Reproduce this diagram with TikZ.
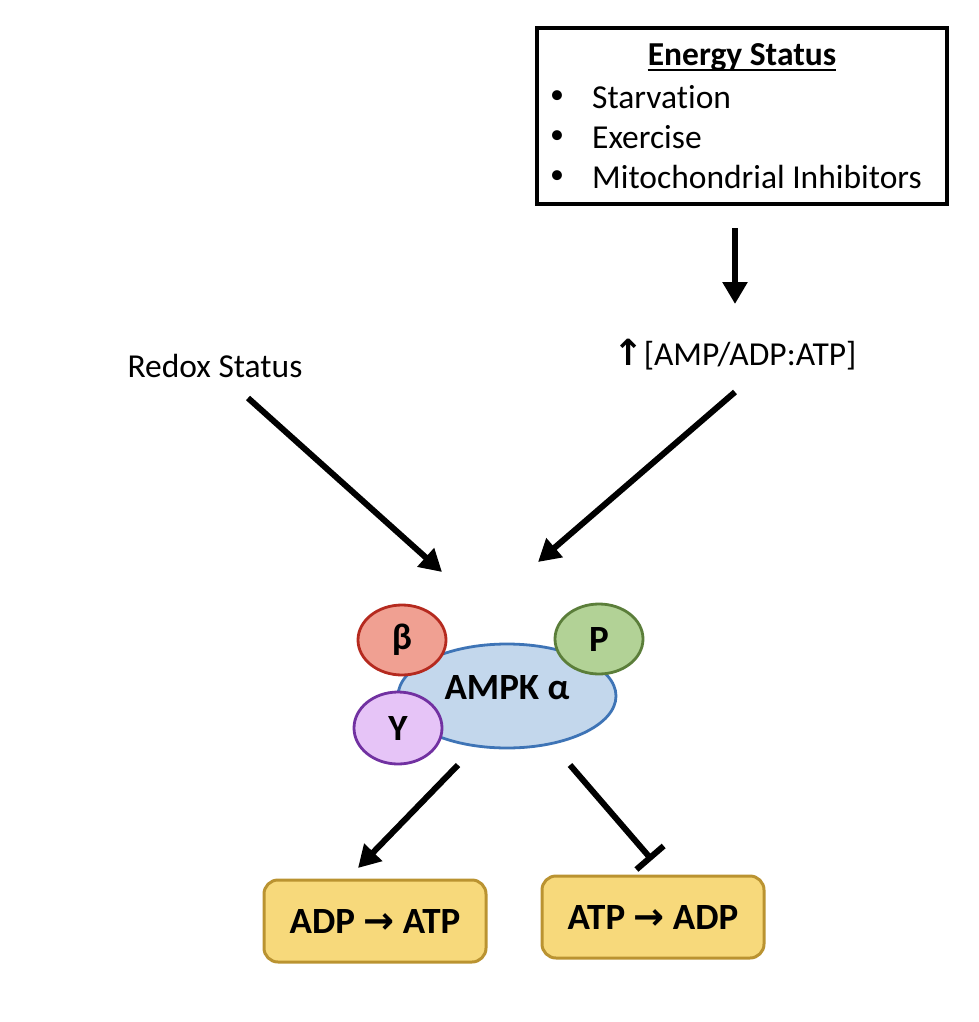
\documentclass[tikz,border=0pt]{standalone}
\usepackage{fontspec}
\setmainfont{Carlito}[Ligatures=NoCommon]
\newfontfamily\symfont{DejaVu Sans}
\usetikzlibrary{arrows.meta,shapes.geometric}
\definecolor{ampkfill}{HTML}{C3D7EC}
\definecolor{ampkline}{HTML}{3E74B6}
\definecolor{betafill}{HTML}{F0A092}
\definecolor{betaline}{HTML}{B52A1F}
\definecolor{pfill}{HTML}{B2D296}
\definecolor{pline}{HTML}{5B7E3A}
\definecolor{gfill}{HTML}{E6C4F7}
\definecolor{gline}{HTML}{7131A1}
\definecolor{boxfill}{HTML}{F7D97B}
\definecolor{boxline}{HTML}{BA9331}
\tikzset{
  x=1pt, y=-1pt,
  conn/.style={line width=6pt, -{Triangle[length=22pt,width=24pt]}},
  inhib/.style={line width=6pt, -{Bar[width=36pt,line width=6pt]}},
  sub/.style={ellipse, line width=2.8pt, minimum width=88pt, minimum height=70pt, inner sep=0pt, font=\fontsize{37}{40}\selectfont\bfseries},
  procbox/.style={rounded corners=14pt, line width=3pt, draw=boxline, fill=boxfill, minimum width=222pt, minimum height=82pt, font=\fontsize{37}{40}\selectfont\bfseries},
  lbl/.style={font=\fontsize{33.5}{38}\selectfont, inner sep=0pt},
}
\newcommand{\ulthick}[1]{\tikz[baseline=(u.base)]{\node[inner sep=0pt] (u) {#1}; \draw[line width=2.2pt] ([yshift=-5pt]u.base west) -- ([yshift=-5pt]u.base east);}}
\begin{document}
\begin{tikzpicture}
\useasboundingbox (0,0) rectangle (978,1022);
% top box
\node[draw, line width=3.5pt, minimum width=410pt, minimum height=176pt, inner sep=0pt] (energy) at (742,116) {};
\node[lbl, font=\fontsize{33.5}{38}\selectfont\bfseries] (title) at (742,57) {Energy Status};
\draw[line width=2.2pt] ([yshift=-5pt]title.base west) -- ([yshift=-5pt]title.base east);
\node[lbl, anchor=center] (b1) at (557,97) {\fontsize{28}{30}\selectfont •};
\node[lbl, anchor=center] (b2) at (557,137) {\fontsize{28}{30}\selectfont •};
\node[lbl, anchor=center] (b3) at (557,177) {\fontsize{28}{30}\selectfont •};
\node[lbl, anchor=west] (t1) at (592,97) {Starvation};
\node[lbl, anchor=west] (t2) at (592,137) {Exercise};
\node[lbl, anchor=west] (t3) at (592,177) {Mitochondrial Inhibitors};
% ratio
\coordinate (e1) at (735,228);
\node[lbl] (ratio) at (735,355) {{\symfont\bfseries\fontsize{36}{40}\selectfont ↑}[AMP/ADP:ATP]};
\draw[conn] (e1) -- (735,304);
\node[lbl] (redox) at (215,366) {Redox Status};
% complex
\node[ellipse, draw=ampkline, fill=ampkfill, line width=2.8pt, minimum width=218pt, minimum height=104pt, inner sep=0pt] (ampk) at (507,696) {};
\node[sub, draw=betaline, fill=betafill] (beta) at (402,640) {β};
\node[sub, draw=pline, fill=pfill] (p) at (599,639) {P};
\node[sub, draw=gline, fill=gfill, minimum height=72pt] (gam) at (398,728) {Y};
\node[font=\fontsize{37}{40}\selectfont\bfseries] (ampklbl) at (507,688) {AMPK α};
% incoming arrows
\coordinate (r1) at (248,398);
\coordinate (r2) at (442,572);
\coordinate (a1) at (735,392);
\coordinate (a2) at (538,562);
\draw[conn] (r1) -- (r2);
\draw[conn] (a1) -- (a2);
% bottom boxes
\node[procbox] (syn) at (375,921) {ADP {\symfont\bfseries →} ATP};
\node[procbox] (hyd) at (653,917) {ATP {\symfont\bfseries →} ADP};
\coordinate (o1) at (458,765);
\coordinate (o2) at (358,868);
\coordinate (i1) at (570,765);
\coordinate (i2) at (652,860);
\draw[conn] (o1) -- (o2);
\draw[inhib] (i1) -- (i2);
\end{tikzpicture}
\end{document}
